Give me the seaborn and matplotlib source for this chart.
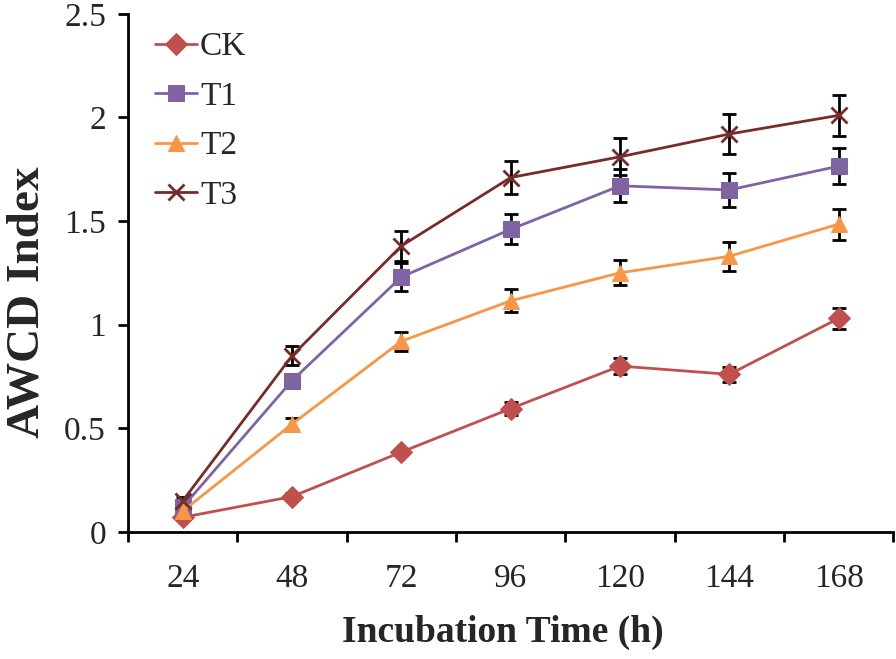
import numpy as np
import pandas as pd
import matplotlib
matplotlib.use('Agg')
import matplotlib.pyplot as plt
from matplotlib.ticker import FixedLocator, FuncFormatter
import seaborn as sns

hours = ['24', '48', '72', '96', '120', '144', '168']
groups = ['CK', 'T1', 'T2', 'T3']

ck = [0.07, 0.17, 0.385, 0.595, 0.80, 0.76, 1.03]
t1 = [0.12, 0.73, 1.23, 1.46, 1.67, 1.65, 1.765]
t2 = [0.10, 0.52, 0.92, 1.115, 1.25, 1.33, 1.485]
t3 = [0.15, 0.85, 1.38, 1.71, 1.81, 1.92, 2.01]

ck_err = [0.01, 0.015, 0.015, 0.03, 0.04, 0.037, 0.05]
t1_err = [0.02, 0.03, 0.068, 0.072, 0.08, 0.08, 0.087]
t2_err = [0.015, 0.03, 0.045, 0.055, 0.06, 0.07, 0.075]
t3_err = [0.02, 0.045, 0.072, 0.08, 0.09, 0.095, 0.10]

colors = ['#C0504D', '#8064A2', '#F79646', '#772C2A']
markers = ['D', 's', '^', 'x']

values = [ck, t1, t2, t3]
errors = [ck_err, t1_err, t2_err, t3_err]

rows = []
for g, vals in zip(groups, values):
    for i, v in enumerate(vals):
        rows.append({'pos': i, 'hour': hours[i], 'group': g, 'awcd': v})
df = pd.DataFrame(rows)

sns.set_style('ticks')
plt.rcParams['font.family'] = ['Liberation Serif', 'DejaVu Serif']

fig = plt.figure(figsize=(8.96, 6.59), dpi=100)
ax = fig.add_axes([0.143, 0.193, 0.854, 0.786])

data_lines = []
for g, c, m in zip(groups, colors, markers):
    sub = df[df['group'] == g]
    sns.lineplot(data=sub, x='pos', y='awcd', color=c, marker=m,
                 markersize=11, linewidth=2, errorbar=None, ax=ax,
                 markeredgecolor=c, markeredgewidth=2 if m == 'x' else 0.75)
    data_lines.append(ax.get_lines()[-1])

# error bars sit under the markers
for vals, err in zip(values, errors):
    ax.errorbar(range(len(hours)), vals, yerr=err, fmt='none', ecolor='black',
                elinewidth=2, capsize=5, capthick=2, zorder=1.9)

ax.legend(data_lines, groups, loc='upper left', bbox_to_anchor=(0.035, 0.965),
          frameon=False, fontsize=24, handlelength=1.25, handletextpad=0.1,
          labelspacing=0.57, borderpad=0, borderaxespad=0)

ax.set_xlim(-0.5, len(hours) - 0.5)
ax.set_ylim(0, 2.5)
ax.set_xticks(range(len(hours)))
ax.set_xticklabels(hours)
ax.xaxis.set_minor_locator(FixedLocator(np.arange(-0.5, len(hours), 1.0)))
ax.tick_params(axis='x', which='major', length=0, pad=23, labelsize=24)
ax.tick_params(axis='x', which='minor', length=7, width=2, direction='out', color='black')
ax.set_yticks(np.arange(0, 2.51, 0.5))
ax.yaxis.set_major_formatter(FuncFormatter(lambda v, p: '%g' % v))
ax.tick_params(axis='y', which='major', length=7, width=2, direction='out',
               pad=9, labelsize=24, color='black')

sns.despine(ax=ax)
for side in ['left', 'bottom']:
    ax.spines[side].set_linewidth(2)
    ax.spines[side].set_color('black')

ax.set_xlabel('Incubation Time (h)', fontsize=27, fontweight='bold', labelpad=15)
ax.set_ylabel('AWCD Index', fontsize=34, fontweight='bold', labelpad=11)
ax.xaxis.label.set_x(0.49)
ax.yaxis.label.set_y(0.444)

fig.savefig('out.png', dpi=100)
